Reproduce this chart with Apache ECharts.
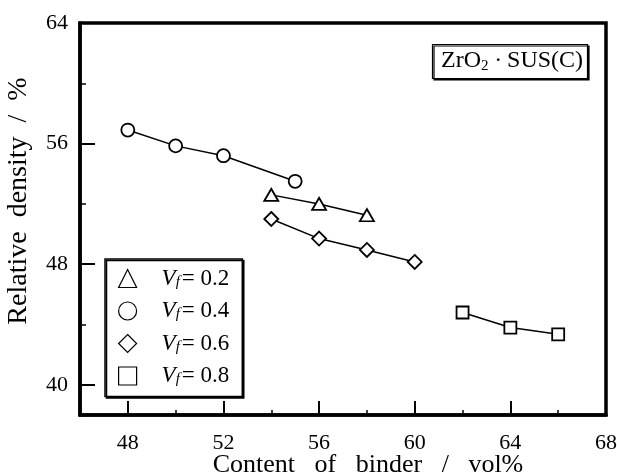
<!DOCTYPE html>
<html>
<head>
<meta charset="utf-8">
<script src="https://cdn.jsdelivr.net/npm/echarts@6/dist/echarts.min.js"></script>
<style>
  html, body { margin: 0; padding: 0; background: #fff; }
  #chart { width: 617px; height: 476px; }
</style>
</head>
<body>
<div id="chart"></div>
<script>
// Binder content (vol%) and relative density (%) for each fibre fraction Vf
const vf = ['0.2', '0.4', '0.6', '0.8'];
const symbols = ['triangle', 'circle', 'diamond', 'rect'];
const symbolSizes = [[14, 12], 13, 14, 12];

const binder02 = [54, 56, 58];
const density02 = [52.6, 52.0, 51.25];
const binder04 = [48, 50, 52, 55];
const density04 = [56.9, 55.85, 55.2, 53.5];
const binder06 = [54, 56, 58, 60];
const density06 = [51.0, 49.7, 48.95, 48.15];
const binder08 = [62, 64, 66];
const density08 = [44.8, 43.8, 43.35];

const xMajor = [48, 52, 56, 60, 64, 68];
const xMinor = [50, 54, 58, 62, 66];
const yMajor = [40, 48, 56, 64];
const yMinor = [44, 52, 60];

const binders = [binder02, binder04, binder06, binder08];
const densities = [density02, density04, density06, density08];

const FONT = '"Liberation Serif", "Times New Roman", serif';

const series = vf.map((name, i) => ({
  name: name,
  type: 'line',
  xAxisIndex: 0,
  yAxisIndex: 0,
  data: binders[i].map((x, j) => [x, densities[i][j]]),
  symbol: symbols[i],
  symbolSize: symbolSizes[i],
  showSymbol: true,
  lineStyle: { color: '#000', width: 1.5 },
  itemStyle: { color: '#fff', borderColor: '#000', borderWidth: 1.8 },
  emphasis: { disabled: true },
  z: 3
}));

const chart = echarts.init(document.getElementById('chart'), null, { renderer: 'canvas' });
chart.setOption({
  animation: false,
  backgroundColor: '#fff',
  grid: {
    left: 80, right: 11, top: 23, bottom: 61,
    outerBoundsMode: 'none',
    containLabel: false,
    show: true, borderColor: '#000', borderWidth: 3.5, backgroundColor: 'transparent'
  },
  title: {
    text: '{a|ZrO}{b|2}{a|\u2009·\u2009SUS(C)}',
    left: 432, top: 43,
    padding: [5, 5, 5, 9],
    backgroundColor: '#fff',
    borderColor: '#000',
    borderWidth: 1.2,
    shadowColor: '#000',
    shadowBlur: 0,
    shadowOffsetX: 1.5,
    shadowOffsetY: 1.5,
    textStyle: {
      fontWeight: 'normal',
      rich: {
        a: { fontFamily: FONT, fontSize: 24, fontWeight: 'normal', color: '#000', lineHeight: 26 },
        b: { fontFamily: FONT, fontSize: 15, fontWeight: 'normal', color: '#000', lineHeight: 14, verticalAlign: 'bottom', padding: [0, 1, 0, 0] }
      }
    }
  },
  legend: {
    orient: 'vertical',
    left: 105, top: 259,
    padding: [8, 13, 9, 13],
    itemWidth: 18, itemHeight: 18,
    itemGap: 9.5,
    backgroundColor: '#fff',
    borderColor: '#000',
    borderWidth: 1.5,
    shadowColor: '#000',
    shadowBlur: 0,
    shadowOffsetX: 1.5,
    shadowOffsetY: 1.5,
    selectedMode: false,
    data: vf.map((name, i) => ({
      name: name,
      icon: symbols[i],
      itemStyle: { color: '#fff', borderColor: '#000', borderWidth: 1.2 }
    })),
    formatter: name => '{v|V}{s|f}{n|= ' + name + '}',
    textStyle: {
      rich: {
        v: { fontFamily: FONT, fontSize: 23, fontStyle: 'italic', color: '#000', lineHeight: 22, padding: [0, 0, 0, 20] },
        s: { fontFamily: FONT, fontSize: 15, fontStyle: 'italic', color: '#000', lineHeight: 14, verticalAlign: 'bottom', padding: [0, 2, 0, 0] },
        n: { fontFamily: FONT, fontSize: 23, color: '#000', lineHeight: 22 }
      }
    }
  },
  xAxis: [{
    type: 'value',
    min: 46, max: 68,
    name: 'Content   of   binder   /   vol%',
    nameLocation: 'middle',
    nameGap: 37,
    nameMoveOverlap: false,
    nameTextStyle: { fontFamily: FONT, fontSize: 26, color: '#000', padding: [0, 0, 0, 50] },
    axisLine: { show: true, lineStyle: { color: '#000', width: 3.5 } },
    axisTick: { show: true, inside: true, length: 14, customValues: xMajor, lineStyle: { color: '#000', width: 2 } },
    axisLabel: { show: true, margin: 17, customValues: xMajor, fontFamily: FONT, fontSize: 22, color: '#000' },
    splitLine: { show: false }
  }, {
    type: 'value',
    min: 46, max: 68,
    position: 'bottom',
    axisLine: { show: false },
    axisTick: { show: true, inside: true, length: 5, customValues: xMinor, lineStyle: { color: '#000', width: 1.5 } },
    axisLabel: { show: false },
    splitLine: { show: false }
  }],
  yAxis: [{
    type: 'value',
    min: 38, max: 64,
    name: 'Relative  density  /  %',
    nameLocation: 'middle',
    nameGap: 47,
    nameMoveOverlap: false,
    nameTextStyle: { fontFamily: FONT, fontSize: 28, color: '#000', padding: [0, 0, 0, 36] },
    axisLine: { show: true, lineStyle: { color: '#000', width: 3.5 } },
    axisTick: { show: true, inside: true, length: 15, customValues: yMajor, lineStyle: { color: '#000', width: 2 } },
    axisLabel: { show: true, margin: 12, customValues: yMajor, fontFamily: FONT, fontSize: 22, color: '#000' },
    splitLine: { show: false }
  }, {
    type: 'value',
    min: 38, max: 64,
    position: 'left',
    axisLine: { show: false },
    axisTick: { show: true, inside: true, length: 6, customValues: yMinor, lineStyle: { color: '#000', width: 1.5 } },
    axisLabel: { show: false },
    splitLine: { show: false }
  }],
  series: series
});
</script>
</body>
</html>
